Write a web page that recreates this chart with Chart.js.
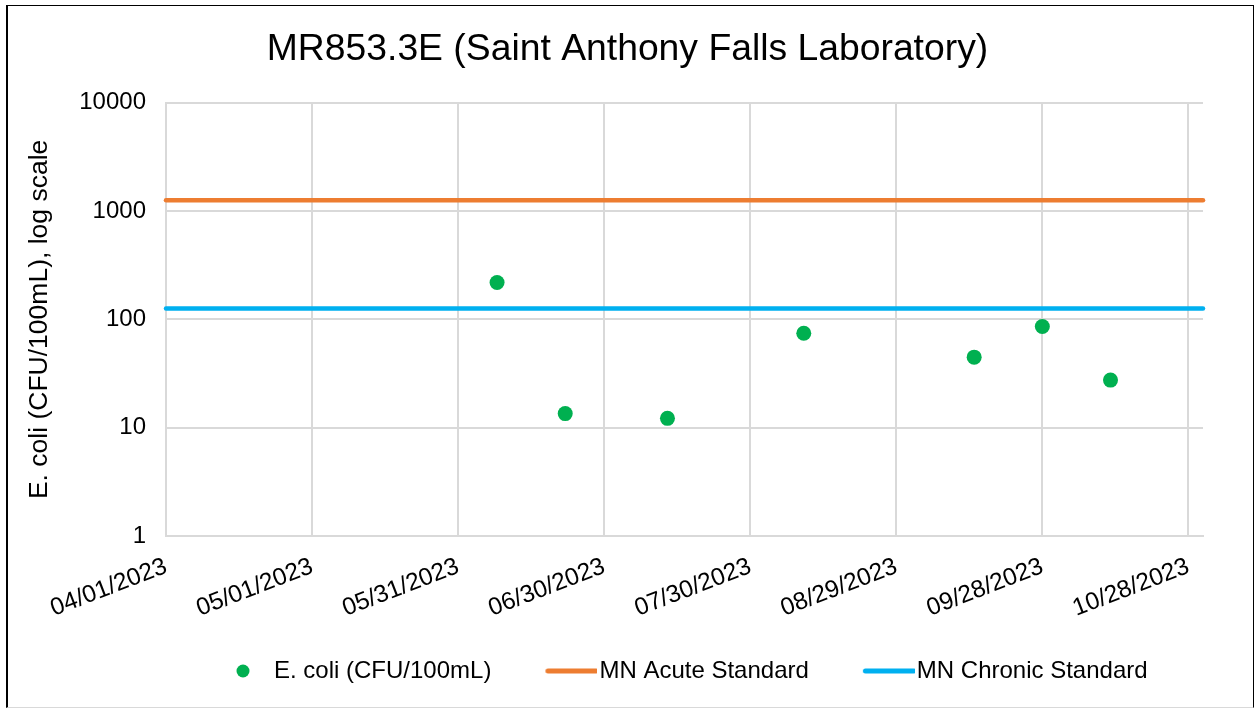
<!DOCTYPE html>
<html>
<head>
<meta charset="utf-8">
<script src="https://cdn.jsdelivr.net/npm/chart.js@4.4.1/dist/chart.umd.min.js"></script>
<style>
    body { margin: 0; background: #fff; }
    #wrap { position: relative; width: 1255px; height: 709px; }
    #frame {
        position: absolute; left: 6px; top: 5px; width: 1245px; height: 701px;
        border-left: 2px solid #000; border-top: 1px solid #000;
        border-right: 1px solid #000; border-bottom: 1px solid #d9d9d9;
        pointer-events: none;
    }
</style>
</head>
<body>
<div id="wrap">
    <canvas id="ecoli-chart" width="1255" height="709"></canvas>
    <div id="frame"></div>
</div>
<script>
// sample dates and E. coli results (CFU/100mL)
const sampleDates = ['06/08/2023', '06/22/2023', '07/13/2023', '08/10/2023', '09/14/2023', '09/28/2023', '10/12/2023']
const ecoliValues = [218.7, 13.5, 12.2, 74.4, 44.8, 86.0, 27.5]

// standards, drawn as flat lines across the season
const acuteStandard = 1260
const chronicStandard = 126

// axis ticks
const startDate = '04/01/2023'
const endDate = '10/31/2023'
const xTickDays = [0, 30, 60, 90, 120, 150, 180, 210]
const yTickValues = [1, 10, 100, 1000, 10000]

const DAY = 86400000
function parseDate(s) {
    let p = s.split('/')
    return Date.UTC(+p[2], +p[0] - 1, +p[1])
}
function dayOf(s) {
    return Math.round((parseDate(s) - parseDate(startDate)) / DAY)
}
function fmtDay(d) {
    let dt = new Date(parseDate(startDate) + d * DAY)
    let mm = String(dt.getUTCMonth() + 1).padStart(2, '0')
    let dd = String(dt.getUTCDate()).padStart(2, '0')
    return mm + '/' + dd + '/' + dt.getUTCFullYear()
}

const xMax = dayOf(endDate)

// legend glyphs: legend box is 76px wide, glyph canvas is 96px centred on it
function legendCircle() {
    let c = document.createElement('canvas')
    c.width = 96; c.height = 20
    let g = c.getContext('2d')
    g.fillStyle = '#00B050'
    g.beginPath()
    g.arc(67, 10, 6.5, 0, Math.PI * 2)
    g.fill()
    return c
}
function legendLine(color) {
    let c = document.createElement('canvas')
    c.width = 96; c.height = 20
    let g = c.getContext('2d')
    g.strokeStyle = color
    g.lineWidth = 5
    g.lineCap = 'round'
    g.beginPath()
    g.moveTo(46.5, 10)
    g.lineTo(95, 10)
    g.stroke()
    return c
}
const legendIcons = [legendCircle(), legendLine('#ED7D31'), legendLine('#00B0F0')]

const points = sampleDates.map((d, i) => ({ x: dayOf(d), y: ecoliValues[i] }))

const data = {
    datasets: [
        {
            type: 'scatter',
            label: 'E. coli (CFU/100mL)',
            data: points,
            backgroundColor: '#00B050',
            borderWidth: 0,
            pointRadius: 7.5,
            pointHoverRadius: 7.5,
            order: 0
        },
        {
            type: 'line',
            label: 'MN Acute Standard',
            data: [{ x: 0, y: acuteStandard }, { x: xMax, y: acuteStandard }],
            borderColor: '#ED7D31',
            borderWidth: 4.5,
            borderCapStyle: 'round',
            pointRadius: 0,
            clip: false,
            order: 1
        },
        {
            type: 'line',
            label: 'MN Chronic Standard',
            data: [{ x: 0, y: chronicStandard }, { x: xMax, y: chronicStandard }],
            borderColor: '#00B0F0',
            borderWidth: 4.5,
            borderCapStyle: 'round',
            pointRadius: 0,
            clip: false,
            order: 2
        }
    ]
}

Chart.defaults.font.family = '"Liberation Sans", Arial, sans-serif'
Chart.defaults.color = '#000'

const ctx = document.getElementById('ecoli-chart')
const ecoliChart = new Chart(ctx, {
    data: data,
    options: {
        responsive: false,
        animation: false,
        events: [],
        layout: { padding: { left: 0, right: 0, top: 0, bottom: 16 } },
        scales: {
            x: {
                type: 'linear',
                min: 0,
                max: xMax,
                afterBuildTicks: (scale) => {
                    scale.ticks = xTickDays.map((v) => ({ value: v }))
                },
                afterFit: (scale) => { scale.height = 103 },
                ticks: {
                    callback: (v) => fmtDay(v),
                    font: { size: 24.5 },
                    maxRotation: 21,
                    minRotation: 21,
                    padding: 16,
                    autoSkip: false
                },
                grid: { color: '#d9d9d9', lineWidth: 2, drawTicks: false },
                border: { color: '#d9d9d9', width: 2 }
            },
            y: {
                type: 'logarithmic',
                min: 1,
                max: 10000,
                afterBuildTicks: (scale) => {
                    scale.ticks = yTickValues.map((v) => ({ value: v }))
                },
                afterFit: (scale) => { scale.width = 166 },
                ticks: {
                    callback: (v) => String(v),
                    font: { size: 24 },
                    padding: 20
                },
                grid: { color: '#d9d9d9', lineWidth: 2, drawTicks: false },
                border: { color: '#d9d9d9', width: 2 },
                title: {
                    display: true,
                    text: 'E. coli (CFU/100mL), log scale',
                    font: { size: 26.5 },
                    padding: { top: 24, bottom: 0 }
                }
            },
            // empty right-hand gutter so the plot stops short of the frame
            gutter: {
                type: 'linear',
                position: 'right',
                afterFit: (scale) => { scale.width = 52 },
                ticks: { display: false },
                grid: { display: false },
                border: { display: false }
            }
        },
        plugins: {
            title: {
                display: true,
                text: 'MR853.3E (Saint Anthony Falls Laboratory)',
                font: { size: 37.3, weight: 'normal' },
                padding: { top: 27, bottom: 31 }
            },
            legend: {
                position: 'bottom',
                align: 'start',
                fullSize: false,
                labels: {
                    font: { size: 24 },
                    padding: 20,
                    usePointStyle: true,
                    pointStyleWidth: 76,
                    generateLabels: (chart) => chart.data.datasets.map((ds, i) => ({
                        text: ds.label,
                        pointStyle: legendIcons[i],
                        fillStyle: 'transparent',
                        strokeStyle: 'transparent',
                        lineWidth: 0,
                        hidden: false,
                        datasetIndex: i
                    }))
                }
            },
            tooltip: { enabled: false }
        }
    }
})
</script>
</body>
</html>
